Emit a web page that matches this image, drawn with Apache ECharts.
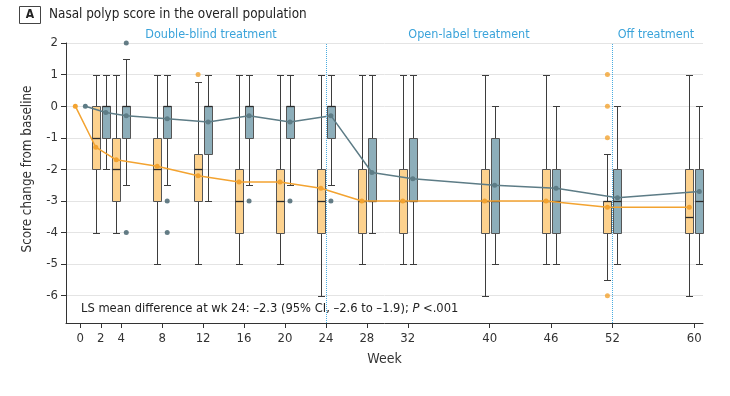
<!DOCTYPE html>
<html>
<head>
<meta charset="utf-8">
<title>Nasal polyp score</title>
<script src="https://cdn.jsdelivr.net/npm/echarts@6/dist/echarts.min.js"></script>
</head>
<body style="margin:0">
<div id="main" style="width:730px;height:396px;"></div>
<script>
// weeks with box plots
var weeks = [2, 4, 8, 12, 16, 20, 24, 28, 32, 40, 46, 52, 60];
// [min, q1, median, q3, max]
var dupiBoxes = [
  [-4, -2, -1, 0, 1], [-4, -3, -2, -1, 1], [-5, -3, -2, -1, 1], [-5, -3, -2, -1.5, 0.75],
  [-5, -4, -3, -2, 1], [-5, -4, -3, -2, 1], [-6, -4, -3, -2, 1], [-5, -4, -3, -2, 1],
  [-5, -4, -3, -2, 1], [-6, -4, -3, -2, 1], [-5, -4, -3, -2, 1], [-5.5, -4, -3, -3, -1.5],
  [-6, -4, -3.5, -2, 1]
];
var placeboBoxes = [
  [-2, -1, 0, 0, 1], [-2.5, -1, 0, 0, 1.5], [-2.5, -1, 0, 0, 1], [-3, -1.5, 0, 0, 1],
  [-2.5, -1, 0, 0, 1], [-2.5, -1, 0, 0, 1], [-2.5, -1, 0, 0, 1], [-4, -3, -3, -1, 1],
  [-5, -3, -3, -1, 1], [-5, -4, -3, -1, 0], [-5, -4, -3, -2, 0], [-5, -4, -3, -2, 0],
  [-5, -4, -3, -2, 0]
];
var meanWeeks = [0, 2, 4, 8, 12, 16, 20, 24, 28, 32, 40, 46, 52, 60];
var dupiMeans = [0, -1.3, -1.7, -1.9, -2.2, -2.4, -2.4, -2.6, -3.0, -3.0, -3.0, -3.0, -3.2, -3.2];
var placeboMeans = [0, -0.2, -0.3, -0.4, -0.5, -0.3, -0.5, -0.3, -2.1, -2.3, -2.5, -2.6, -2.9, -2.7];
var dupiOutliers = [[12, 1], [52, 1], [52, 0], [52, -1], [52, -6]];
var placeboOutliers = [[4, 2], [4, -4], [8, -3], [8, -4], [16, -3], [20, -3], [24, -3]];
var weekTicks = [0, 2, 4, 8, 12, 16, 20, 24, 28, 32, 40, 46, 52, 60];
var scoreTicks = [-6, -5, -4, -3, -2, -1, 0, 1, 2];
var phaseWeeks = [24, 52];
var phaseNames = ['Double-blind treatment', 'Open-label treatment', 'Off treatment'];

var FONT = '"Liberation Sans Narrow", "DejaVu Sans Condensed", "Noto Sans", sans-serif';
var ORANGE = '#F3A330', ORANGE_FILL = '#FDD28E';
var BLUE = '#5D7C86', BLUE_FILL = '#8DAEBA';
var SHIFT = 0.49; // half a box pair, in weeks

var myChart = echarts.init(document.getElementById('main'));

function boxRender(shift, fill) {
  return function (params, api) {
    var w = api.value(0) + shift;
    var x = Math.round(api.coord([w, 0])[0]) + 0.5;
    var y = function (i) { return Math.round(api.coord([w, api.value(i)])[1]) + 0.5; };
    var yMin = y(1), yQ1 = y(2), yMed = y(3), yQ3 = y(4), yMax = y(5);
    var half = 4, cap = 3.5;
    var ws = { stroke: '#3d3d3d', lineWidth: 1 };
    return {
      type: 'group',
      children: [
        { type: 'line', shape: { x1: x, y1: yMax, x2: x, y2: yMin }, style: ws },
        { type: 'line', shape: { x1: x - cap, y1: yMax, x2: x + cap, y2: yMax }, style: ws },
        { type: 'line', shape: { x1: x - cap, y1: yMin, x2: x + cap, y2: yMin }, style: ws },
        { type: 'rect', shape: { x: x - half, y: yQ3, width: half * 2, height: yQ1 - yQ3 },
          style: { fill: fill, stroke: '#555', lineWidth: 1 } },
        { type: 'line', shape: { x1: x - half, y1: yMed, x2: x + half, y2: yMed },
          style: { stroke: '#2b2b2b', lineWidth: 1.3 } }
      ]
    };
  };
}

var option = {
  animation: false,
  grid: { left: 66, right: 27, top: 43, bottom: 73 },
  xAxis: {
    type: 'value', min: -1.4, max: 60.85,
    name: 'Week', nameLocation: 'middle', nameGap: 29,
    nameTextStyle: { fontFamily: FONT, fontSize: 14, color: '#333' },
    axisLine: { onZero: false, lineStyle: { color: '#333' } },
    axisTick: { customValues: weekTicks, length: 5, lineStyle: { color: '#333' } },
    axisLabel: { customValues: weekTicks, fontFamily: FONT, fontSize: 13, color: '#333', margin: 9 },
    splitLine: { show: false }
  },
  yAxis: {
    type: 'value', min: -6.865, max: 2, splitNumber: 9,
    axisLine: { show: true, onZero: false, lineStyle: { color: '#333' } },
    axisTick: { show: true, customValues: scoreTicks, length: 5, lineStyle: { color: '#333' } },
    axisLabel: { customValues: scoreTicks, fontFamily: FONT, fontSize: 13, color: '#333', margin: 8 },
    splitLine: { lineStyle: { color: '#e4e4e4' } }
  },
  series: [
    {
      type: 'custom', z: 2,
      renderItem: boxRender(-SHIFT, ORANGE_FILL),
      encode: { x: 0, y: [1, 2, 3, 4, 5] },
      data: weeks.map(function (w, i) { return [w].concat(dupiBoxes[i]); }),
      markLine: {
        silent: true, symbol: ['none', 'none'], label: { show: false },
        lineStyle: { type: 'dotted', color: '#4AACE0', width: 1 },
        data: phaseWeeks.map(function (w) { return { xAxis: w }; })
      }
    },
    {
      type: 'custom', z: 2,
      renderItem: boxRender(SHIFT, BLUE_FILL),
      encode: { x: 0, y: [1, 2, 3, 4, 5] },
      data: weeks.map(function (w, i) { return [w].concat(placeboBoxes[i]); })
    },
    {
      type: 'line', z: 4,
      data: meanWeeks.map(function (w, i) { return [w - SHIFT, dupiMeans[i]]; }),
      symbol: 'circle', symbolSize: 5, showAllSymbol: true,
      lineStyle: { color: ORANGE, width: 1.5 },
      itemStyle: { color: ORANGE }
    },
    {
      type: 'line', z: 4,
      data: meanWeeks.map(function (w, i) { return [w + SHIFT, placeboMeans[i]]; }),
      symbol: 'circle', symbolSize: 5, showAllSymbol: true,
      lineStyle: { color: BLUE, width: 1.5 },
      itemStyle: { color: BLUE }
    },
    {
      type: 'scatter', z: 5, symbolSize: 5,
      data: dupiOutliers.map(function (d) { return [d[0] - SHIFT, d[1]]; }),
      itemStyle: { color: ORANGE }
    },
    {
      type: 'scatter', z: 5, symbolSize: 5,
      data: placeboOutliers.map(function (d) { return [d[0] + SHIFT, d[1]]; }),
      itemStyle: { color: '#3F5E69' }
    }
  ],
  graphic: [
    { type: 'rect', shape: { x: 19.5, y: 6.5, width: 21, height: 17 },
      style: { fill: 'none', stroke: '#444', lineWidth: 1 } },
    { type: 'text', x: 30, y: 15, style: { text: 'A', align: 'center', verticalAlign: 'middle',
      font: 'bold 12px ' + FONT, fill: '#222' } },
    { type: 'text', x: 49, y: 15, style: { text: 'Nasal polyp score in the overall population',
      verticalAlign: 'middle', font: '13.4px ' + FONT, fill: '#222' } },
    { type: 'text', x: 211, y: 35, style: { text: phaseNames[0], align: 'center', verticalAlign: 'middle',
      font: '12.5px ' + FONT, fill: '#3AA3DA' } },
    { type: 'text', x: 469, y: 35, style: { text: phaseNames[1], align: 'center', verticalAlign: 'middle',
      font: '12.5px ' + FONT, fill: '#3AA3DA' } },
    { type: 'text', x: 656, y: 35, style: { text: phaseNames[2], align: 'center', verticalAlign: 'middle',
      font: '12.5px ' + FONT, fill: '#3AA3DA' } },
    { type: 'text', x: 28, y: 169, rotation: Math.PI / 2,
      style: { text: 'Score change from baseline', align: 'center', verticalAlign: 'middle',
        font: '13.3px ' + FONT, fill: '#333' } },
    { type: 'text', x: 81, y: 309, z: 10,
      style: { text: 'LS mean difference at wk 24: \u20132.3 (95% CI, \u20132.6 to \u20131.9); {i|P} <.001',
        verticalAlign: 'middle', font: '12.8px ' + FONT, fill: '#222',
        rich: { i: { fontStyle: 'italic', fontFamily: FONT, fontSize: 12.8, fill: '#222' } } } }
  ]
};
myChart.setOption(option);
</script>
</body>
</html>
